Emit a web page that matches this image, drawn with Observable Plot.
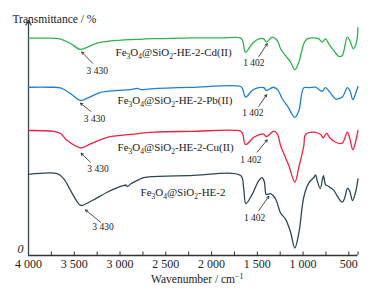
<!DOCTYPE html>
<html><head><meta charset="utf-8">
<script src="https://cdn.jsdelivr.net/npm/d3@7"></script>
<script src="https://cdn.jsdelivr.net/npm/@observablehq/plot@0.6"></script>
<style>body{margin:0;background:#fff} svg{display:block}</style>
</head><body><div id="chart"></div>
<script>
// ---- data ----
const xDomain = [4000, 400];
const yDomain = [0, 100];
const xTicks = [4000, 3500, 3000, 2500, 2000, 1500, 1000, 500];
const xTickMarks = [4000, 3750, 3500, 3250, 3000, 2750, 2500, 2250, 2000, 1750, 1500, 1250, 1000, 750, 500, 400];

const seriesNames = ["Fe3O4@SiO2-HE-2-Cd(II)", "Fe3O4@SiO2-HE-2-Pb(II)", "Fe3O4@SiO2-HE-2-Cu(II)", "Fe3O4@SiO2-HE-2"];
const seriesColors = ["#2fb14e", "#1f7fd2", "#ee2240", "#2d4656"];

const cdWn = [4000,3814,3650,3541,3432,3344,3268,3104,2885,2776,2722,2558,2230,1902,1683,1660,1629,1556,1484,1429,1402,1337,1282,1246,1192,1137,1090,1046,992,955,882,828,791,755,719,664,609,572,517,489,452,427,408,400];
const cdT  = [92.5,92.5,92.1,90.2,87.7,88.9,90.2,91.3,91.9,92.0,92.2,92.3,92.6,92.6,92.6,91.5,86.5,90.1,92.2,92.2,90.8,92.9,91.5,88.0,85.1,82.3,79.0,82.3,90.1,92.2,92.6,92.2,90.8,92.2,90.1,87.2,84.7,85.1,92.9,91.5,88.0,89.4,92.9,97];

const pbWn = [4000,3760,3650,3541,3432,3344,3213,3049,2885,2809,2776,2667,2230,1683,1660,1629,1556,1484,1429,1402,1326,1276,1228,1173,1090,1046,992,937,864,791,755,708,645,572,517,489,456,427,400];
const pbT  = [71.6,71.6,71.3,68.9,66.0,67.2,69.4,70.2,70.6,71.1,70.6,70.9,71.5,71.9,70.8,67.4,70.2,71.4,71.4,70.2,71.6,70.5,66.7,63.8,58.8,61.7,71.4,71.4,71.6,69.9,71.4,69.5,66.7,67.4,71.4,70.2,66.3,68.8,71.9];

const cuWn = [4000,3724,3650,3577,3432,3323,3140,2885,2631,2230,1683,1660,1629,1538,1465,1432,1402,1320,1282,1246,1210,1156,1090,1046,992,973,882,809,780,744,708,645,572,517,489,456,427,400];
const cuT  = [53.2,52.8,51.9,48.9,45.8,47.5,50.3,51.5,52.5,52.8,52.9,51.8,47.2,50.3,51.5,51.7,50.6,52.9,51.8,46.8,43.3,38.3,31.2,37.6,46.8,51.5,52.5,51.5,50.1,52.0,50.1,48.2,47.8,52.5,49.7,45.0,48.2,53.2];

const he2Wn = [4000,3686,3614,3541,3476,3430,3304,3140,2995,2962,2940,2918,2885,2849,2740,2631,2230,1683,1650,1625,1556,1484,1447,1422,1402,1356,1301,1246,1192,1137,1091,1046,992,937,882,864,846,812,778,755,719,664,624,572,547,514,489,460,427,400];
const he2T  = [34.5,34.8,32.6,27.7,23.4,21.3,23.4,26.9,29.4,29.7,30.0,29.4,30.4,31.2,33.1,33.6,34.0,34.0,29.0,22.1,26.0,31.9,33.1,31.2,26.0,26.3,24.1,18.1,15.5,10.0,3.2,9.6,24.9,30.9,33.2,34.3,31.9,28.5,34.0,30.2,29.4,27.7,25.1,22.7,24.3,28.7,27.2,23.4,26.9,32.6];

// series label positions (wavenumber, transmittance)
const labelWn = [3049, 3027, 3027, 2776];
const labelT  = [86.5, 66.0, 46.1, 26.9];

// peak annotations
const annText   = ["3 430","3 430","3 430","3 430","1 402","1 402","1 402","1 402"];
const annTextWn = [3249, 3279, 3241, 3186, 1538, 1549, 1571, 1530];
const annTextT  = [78.7, 58.0, 36.9, 12.0, 81.8, 60.7, 40.7, 16.0];
const annFromWn = [3300, 3322, 3323, 3213, 1484, 1484, 1501, 1484];
const annFromT  = [81.8, 61.4, 39.7, 14.2, 84.7, 63.5, 44.0, 19.1];
const annToWn   = [3418, 3432, 3425, 3377, 1392, 1399, 1392, 1374];
const annToT    = [86.6, 64.8, 43.5, 19.4, 90.1, 68.4, 49.2, 25.2];

const yLabel = "Transmittance / %";
const xLabel = "Wavenumber / cm-1";

// ---- build tables ----
const wnArr = [cdWn, pbWn, cuWn, he2Wn];
const tArr = [cdT, pbT, cuT, he2T];
const rows = seriesNames.flatMap((name, k) => wnArr[k].map((w, i) => ({series: name, wn: w, t: tArr[k][i]})));
const labels = seriesNames.map((name, k) => ({name, wn: labelWn[k], t: labelT[k]}));
const anns = annText.map((txt, i) => ({txt, wn: annTextWn[i], t: annTextT[i], x1: annFromWn[i], y1: annFromT[i], x2: annToWn[i], y2: annToT[i]}));
const fmt = d => d >= 1000 ? d3.format(",")(d).replace(",", " ") : String(d);

const chart = Plot.plot({
  width: 387, height: 293,
  marginLeft: 28, marginRight: 29.5, marginTop: 20, marginBottom: 38,
  x: {domain: xDomain},
  y: {domain: yDomain},
  color: {domain: seriesNames, range: seriesColors},
  style: {fontFamily: "'Liberation Serif','Times New Roman',serif", background: "#fff", color: "#222"},
  marks: [
    Plot.axisX({ticks: xTicks, tickSize: 0, tickPadding: 4, tickFormat: fmt, fontSize: 12, label: null}),
    Plot.axisY({ticks: [yDomain[0]], tickSize: 0, tickPadding: 5, tickFormat: () => "0", fontSize: 12, fontStyle: "italic", dy: -6, label: null}),
    Plot.ruleY([yDomain[0]], {stroke: "#333", strokeWidth: 1.3}),
    Plot.ruleX(xTickMarks, {x: d => d, y1: 0, y2: 1.5, stroke: "#333", strokeWidth: 1}),
    Plot.arrow([0], {x1: xDomain[0], x2: xDomain[0], y1: yDomain[0], y2: yDomain[1], stroke: "#3a464c", strokeWidth: 1.3, headLength: 6}),
    Plot.line(rows, {x: "wn", y: "t", z: "series", stroke: "series", strokeWidth: 1.3, curve: "catmull-rom"}),
    Plot.arrow(anns, {x1: "x1", y1: "y1", x2: "x2", y2: "y2", stroke: "#222", strokeWidth: 0.8, headLength: 4.5}),
    Plot.text(anns, {x: "wn", y: "t", text: "txt", fontSize: 9.5, fill: "#222"}),
    Plot.text(labels, {x: "wn", y: "t", text: "name", textAnchor: "start", fontSize: 11, fill: "#222"}),
    Plot.text([yLabel], {frameAnchor: "top-left", dx: -16, dy: -6, textAnchor: "start", fontSize: 11.5, fill: "#222"}),
    Plot.text([xLabel], {frameAnchor: "bottom", dx: 4, dy: 27, fontSize: 11.5, fill: "#222"})
  ]
});
document.getElementById("chart").appendChild(chart);

// subscripts / superscripts as real text
const NS = "http://www.w3.org/2000/svg";
chart.querySelectorAll("text").forEach(el => {
  const s = el.textContent;
  if (seriesNames.includes(s)) {
    el.textContent = "";
    const parts = s.split(/(?<=Fe|O)(\d)/);
    let sub = false;
    parts.forEach((p, i) => {
      if (!p) return;
      const ts = document.createElementNS(NS, "tspan");
      ts.textContent = p;
      if (i % 2 === 1) { ts.setAttribute("font-size", "7.5"); ts.setAttribute("dy", "3"); sub = true; }
      else if (sub) { ts.setAttribute("dy", "-3"); sub = false; }
      el.appendChild(ts);
    });
  } else if (s === xLabel) {
    el.textContent = "";
    const a = document.createElementNS(NS, "tspan"); a.textContent = s.replace("-1", ""); el.appendChild(a);
    const b = document.createElementNS(NS, "tspan"); b.textContent = "\u22121"; b.setAttribute("font-size", "8"); b.setAttribute("dy", "-4"); el.appendChild(b);
  }
});
</script></body></html>
